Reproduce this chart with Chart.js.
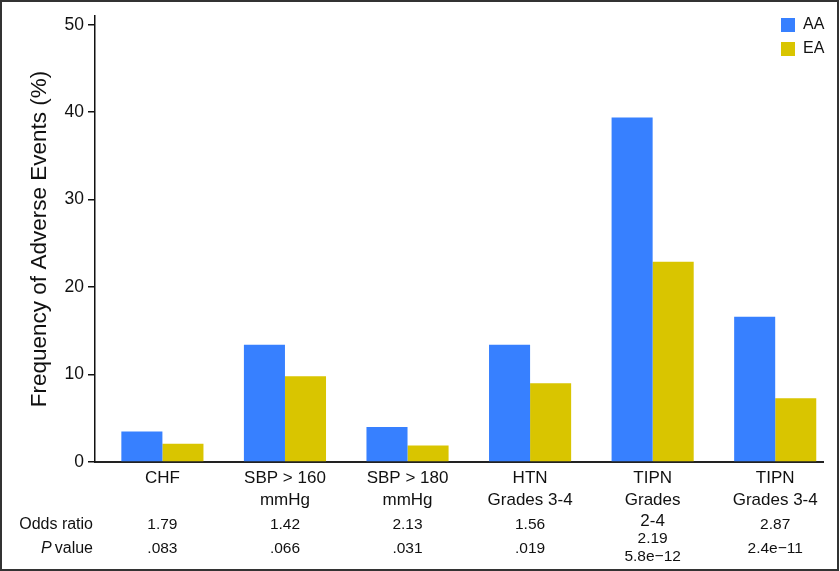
<!DOCTYPE html>
<html>
<head>
<meta charset="utf-8">
<script src="https://cdn.jsdelivr.net/npm/chart.js@4.4.0/dist/chart.umd.min.js"></script>
<style>
  html, body { margin: 0; padding: 0; background: #fff; }
  #wrap { width: 840px; height: 571px; position: relative; }
</style>
</head>
<body>
<div id="wrap"><canvas id="chart"></canvas></div>
<script>
const categories = [['CHF'], ['SBP > 160', 'mmHg'], ['SBP > 180', 'mmHg'], ['HTN', 'Grades 3-4'], ['TIPN', 'Grades', '2-4'], ['TIPN', 'Grades 3-4']]
const aaValues = [3.5, 13.4, 4.0, 13.4, 39.4, 16.6]
const eaValues = [2.1, 9.8, 1.9, 9.0, 22.9, 7.3]
const oddsRatios = ['1.79', '1.42', '2.13', '1.56', '2.19', '2.87']
const pValues = ['.083', '.066', '.031', '.019', '5.8e\u221212', '2.4e\u221211']
const yTicks = [0, 10, 20, 30, 40, 50]

const FONT = '"Liberation Sans", Arial, sans-serif'
Chart.defaults.font.family = FONT
Chart.defaults.color = '#111'

// odds ratio / P value rows under the category labels
const tableRows = {
  id: 'tableRows',
  afterDraw(chart) {
    const ctx = chart.ctx
    const x = chart.scales.x
    ctx.save()
    ctx.fillStyle = '#111'
    ctx.textBaseline = 'middle'
    ctx.font = '16px ' + FONT
    ctx.textAlign = 'right'
    ctx.fillText('Odds ratio', 93, 525)
    ctx.fillText('value', 93, 549)
    const vw = ctx.measureText('value').width
    ctx.font = 'italic 16px ' + FONT
    ctx.fillText('P', 93 - vw - 3, 549)
    ctx.font = '15.5px ' + FONT
    ctx.textAlign = 'center'
    categories.forEach((c, i) => {
      const px = x.getPixelForValue(i)
      if (c.length > 2) {
        ctx.fillText(oddsRatios[i], px, 539)
        ctx.fillText(pValues[i], px, 557)
      } else {
        ctx.fillText(oddsRatios[i], px, 525)
        ctx.fillText(pValues[i], px, 549)
      }
    })
    ctx.restore()
  }
}

const boxLegend = {
  id: 'boxLegend',
  afterDraw(chart) {
    const ctx = chart.ctx
    ctx.save()
    ctx.font = '16px ' + FONT
    ctx.textBaseline = 'middle'
    ctx.textAlign = 'left'
    chart.data.datasets.forEach((ds, i) => {
      const y = 25 + i * 24
      ctx.fillStyle = ds.backgroundColor
      ctx.fillRect(781, y - 7, 14, 14)
      ctx.fillStyle = '#111'
      ctx.fillText(ds.label, 803, y)
    })
    ctx.restore()
  }
}

const frame = {
  id: 'frame',
  afterDraw(chart) {
    const ctx = chart.ctx
    ctx.save()
    ctx.strokeStyle = '#333'
    ctx.lineWidth = 2
    ctx.strokeRect(1, 1, 837, 569)
    ctx.restore()
  }
}

new Chart(document.getElementById('chart'), {
  type: 'bar',
  data: {
    labels: categories.map((c, i) => i),
    datasets: [
      { label: 'AA', data: aaValues, backgroundColor: '#3780ff' },
      { label: 'EA', data: eaValues, backgroundColor: '#d9c500' }
    ]
  },
  options: {
    responsive: true,
    maintainAspectRatio: false,
    animation: false,
    layout: { padding: { top: 16, right: 17, bottom: 0, left: 0 } },
    datasets: { bar: { categoryPercentage: 0.67, barPercentage: 1, borderWidth: 0 } },
    plugins: {
      legend: { display: false },
      tooltip: { enabled: false }
    },
    scales: {
      x: {
        type: 'linear',
        min: -0.55,
        max: 5.39,
        offset: false,
        afterBuildTicks: (scale) => { scale.ticks = categories.map((c, i) => ({ value: i })) },
        afterFit: (scale) => { scale.height = 109 },
        grid: { display: false, drawTicks: false },
        border: { color: '#222', width: 2 },
        ticks: {
          autoSkip: false,
          maxRotation: 0,
          padding: 6,
          color: '#111',
          font: { size: 17, lineHeight: 1.25 },
          callback: (v) => categories[v]
        }
      },
      y: {
        min: 0,
        max: 51,
        afterBuildTicks: (scale) => { scale.ticks = yTicks.map(v => ({ value: v })) },
        afterFit: (scale) => { scale.width = 95 },
        grid: { drawOnChartArea: false, tickLength: 7, color: '#111', lineWidth: 1.5 },
        border: { color: '#111', width: 1.5 },
        ticks: { padding: 4, color: '#111', font: { size: 17.5 } },
        title: {
          display: true,
          text: 'Frequency of Adverse Events (%)',
          color: '#111',
          font: { size: 22.5 },
          padding: { top: 26, bottom: 0 }
        }
      }
    }
  },
  plugins: [tableRows, boxLegend, frame]
})
</script>
</body>
</html>
